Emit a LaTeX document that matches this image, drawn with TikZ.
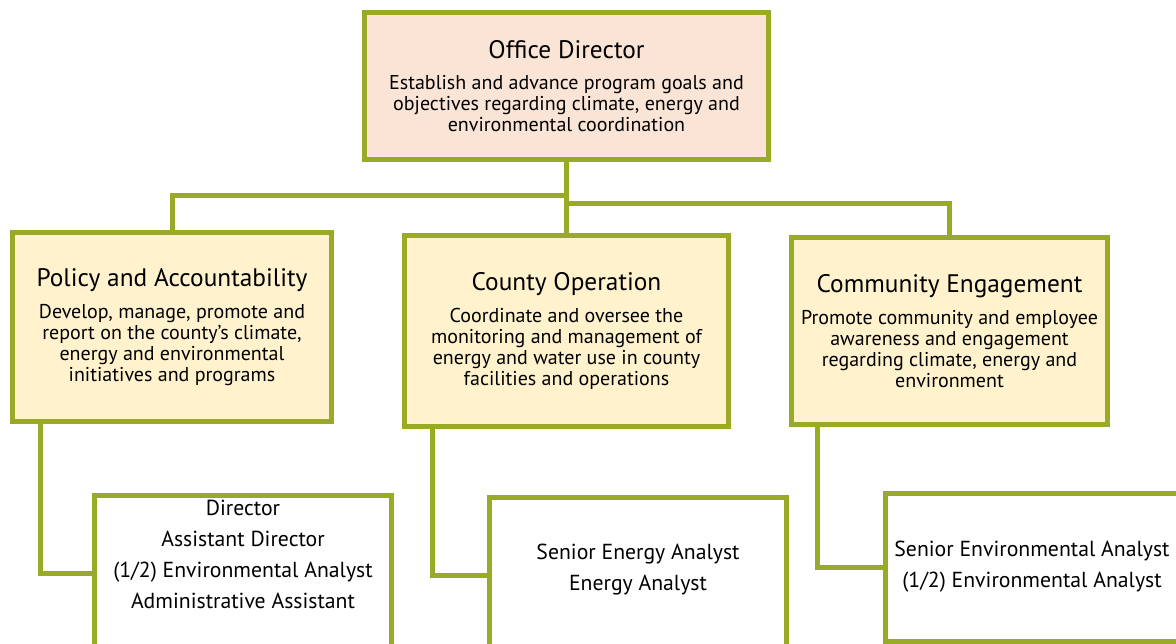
\documentclass[tikz,border=0pt]{standalone}
\usepackage{fontspec}
\setmainfont{PT Sans}
\usepackage{tikz}
\usetikzlibrary{positioning}
\definecolor{orgGreen}{RGB}{153,170,38}
\definecolor{headFill}{RGB}{250,228,214}
\definecolor{unitFill}{RGB}{255,242,204}
\newcommand{\titlefont}{\fontsize{19}{21}\selectfont}
\newcommand{\descfont}{\fontsize{15}{15.75}\selectfont}
\newcommand{\stafffont}{\fontsize{16.3}{23.25}\selectfont}

\begin{document}
\begin{tikzpicture}[x=0.75pt, y=-0.75pt,
  box/.style={draw=orgGreen, line width=3.75pt, inner sep=0pt, align=center},
  head/.style={box, fill=headFill, font=\descfont},
  unit/.style={box, fill=unitFill, font=\descfont},
  staff/.style={box, fill=white},
  names/.style={align=center, font=\stafffont, inner sep=0pt},
  link/.style={draw=orgGreen, line width=3.75pt}]
\useasboundingbox (0,0) rectangle (1176,643);
\clip (0,0) rectangle (1176,643);

% Top box
\node[head, minimum width={404*0.75pt}, minimum height={147*0.75pt}] (office) at (566.5,86) {{\titlefont Office Director}\\[8pt]Establish and advance program goals and\\objectives regarding climate, energy and\\environmental coordination};

% Three sections
\node[unit, minimum width={319*0.75pt}, minimum height={189*0.75pt}] (policy) at (172,327) {{\titlefont Policy and Accountability}\\[8pt]Develop, manage, promote and\\report on the county’s climate,\\energy and environmental\\initiatives and programs};
\node[unit, minimum width={324*0.75pt}, minimum height={191*0.75pt}] (county) at (566.5,331) {{\titlefont County Operation}\\[8pt]Coordinate and oversee the\\monitoring and management of\\energy and water use in county\\facilities and operations};
\node[unit, minimum width={316*0.75pt}, minimum height={187*0.75pt}] (community) at (949.5,331) {{\titlefont Community Engagement}\\[8pt]Promote community and employee\\awareness and engagement\\regarding climate, energy and\\environment};

% Staff boxes (run off the page)
\node[staff, minimum width={297*0.75pt}, minimum height={156*0.75pt}] (staffA) at (243,573) {};
\node[staff, minimum width={297*0.75pt}, minimum height={156*0.75pt}] (staffB) at (638,575) {};
\node[staff, minimum width={297*0.75pt}, minimum height={148*0.75pt}] (staffC) at (1034,567) {};
\node[names] (namesA) at ([yshift={19*0.75pt}]staffA) {Director\\Assistant Director\\(1/2) Environmental Analyst\\Administrative Assistant};
\node[names] (namesB) at ([yshift={5*0.75pt}]staffB) {Senior Energy Analyst\\Energy Analyst};
\node[names] (namesC) at ([xshift={-2*0.75pt}]staffC) {Senior Environmental Analyst\\(1/2) Environmental Analyst};

% Connectors
\draw[link] (office.south) -- ++(0,33) -| (policy.north);
\draw[link] (office.south) -- (county.north);
\draw[link] (office.south) -- ++(0,41) -| (community.north);
\draw[link] ([xshift={30*0.75pt}]policy.south west) |- (staffA.west);
\draw[link] ([xshift={30*0.75pt}]county.south west) |- (staffB.west);
\draw[link] ([xshift={28*0.75pt}]community.south west) |- (staffC.west);
\end{tikzpicture}
\end{document}
